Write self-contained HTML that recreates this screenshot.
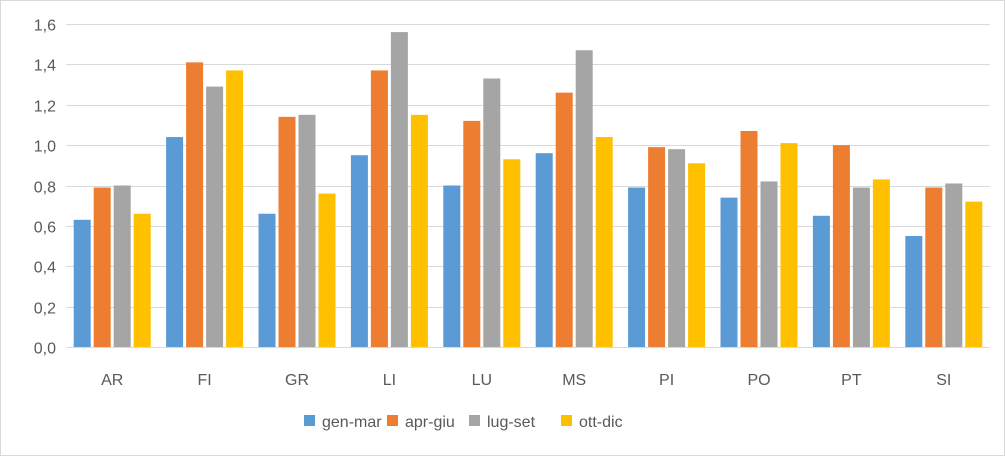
<!DOCTYPE html>
<html><head><meta charset="utf-8"><style>
html,body{margin:0;padding:0;background:#fff;}
svg{display:block;font-family:"Liberation Sans",Arial,sans-serif;}
</style></head><body>
<svg id="chart" width="1005" height="456">
<rect x="0.5" y="0.5" width="1004" height="455" fill="#fff" stroke="#d9d9d9"/>
<g id="grid"></g><g id="bars"></g><g id="xlabels"></g><g id="ylabels"></g><g id="legend"></g>
</svg>
<script>
const categories=["AR","FI","GR","LI","LU","MS","PI","PO","PT","SI"];
const seriesNames=["gen-mar","apr-giu","lug-set","ott-dic"];
const genMar=[0.63,1.04,0.66,0.95,0.80,0.96,0.79,0.74,0.65,0.55];
const aprGiu=[0.79,1.41,1.14,1.37,1.12,1.26,0.99,1.07,1.00,0.79];
const lugSet=[0.80,1.29,1.15,1.56,1.33,1.47,0.98,0.82,0.79,0.81];
const ottDic=[0.66,1.37,0.76,1.15,0.93,1.04,0.91,1.01,0.83,0.72];
const yTicks=[0,0.2,0.4,0.6,0.8,1.0,1.2,1.4,1.6];
const colors=["#5B9BD5","#ED7D31","#A5A5A5","#FFC000"];
const series=[genMar,aprGiu,lugSet,ottDic];
const NS="http://www.w3.org/2000/svg";
const x0=66,x1=990,y0=347,y1=24,yMax=1.6;
const bandW=(x1-x0)/categories.length;
const yScale=v=>y0-(v/yMax)*(y0-y1);
const xBand=i=>x0+i*bandW;
function mk(tag,attrs,parent){const e=document.createElementNS(NS,tag);for(const k in attrs)e.setAttribute(k,attrs[k]);parent.appendChild(e);return e;}
const grid=document.getElementById('grid'),bars=document.getElementById('bars'),xl=document.getElementById('xlabels'),yl=document.getElementById('ylabels'),lg=document.getElementById('legend');
yTicks.forEach(t=>{
 const y=Math.round(yScale(t))+0.5;
 const l=mk('line',{x1:x0,x2:x1,y1:y,y2:y,stroke:'#d9d9d9','stroke-width':1},grid);
 
 
 const tx=mk('text',{x:x0-10,y:y+6,'text-anchor':'end','font-size':16,fill:'#595959'},yl);
 tx.textContent=t.toFixed(1).replace('.',',');
 
 
});
const barW=17,gap=3,groupW=4*barW+3*gap;
categories.forEach((c,i)=>{
 const start=xBand(i)+(bandW-groupW)/2;
 series.forEach((s,j)=>{
  const y=yScale(s[i]);
  const r=mk('rect',{x:start+j*(barW+gap),y:y,width:barW,height:y0-y,fill:colors[j]},bars);
  
  
 });
 const t=mk('text',{x:xBand(i)+bandW/2,y:385,'text-anchor':'middle','font-size':16,fill:'#595959'},xl);
 t.textContent=c;
 
 
});
const legX=[304,387,469,561];
seriesNames.forEach((n,j)=>{
 const r=mk('rect',{x:legX[j],y:415,width:11,height:11,fill:colors[j]},lg);
 
 
 const t=mk('text',{x:legX[j]+18,y:427,'font-size':16,fill:'#595959'},lg);
 t.textContent=n;
 
 
});
</script>
</body></html>
